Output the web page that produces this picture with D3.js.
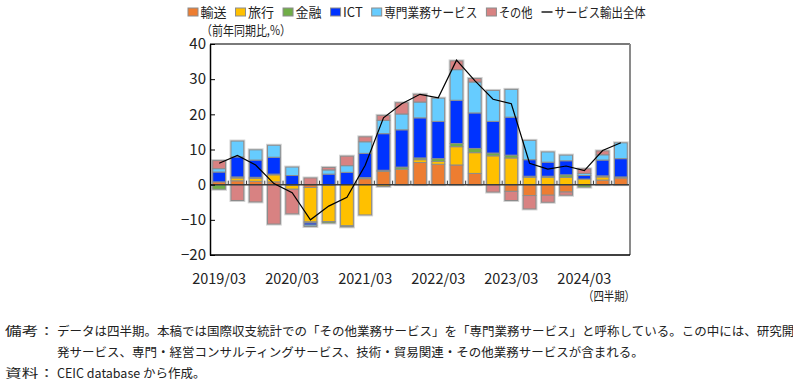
<!DOCTYPE html>
<html>
<meta charset="utf-8">
<title>サービス輸出の伸び率と寄与度</title>
<style>
  body { margin: 0; background: #fff; }
  svg { display: block; font-family: "Noto Sans CJK JP", "Noto Sans", sans-serif; fill: #222; }
  .seg { stroke: #8c8c8c; stroke-width: 1; }
  .halo { fill: none; stroke: #d2d2d2; stroke-width: 3; }
  .total { fill: none; stroke: #000; stroke-width: 1.2; }
</style>
<body>
<div id="chart"></div>
<script src="https://cdn.jsdelivr.net/npm/d3@7"></script>
<script>

const quarters = ['2019/03','2019/06','2019/09','2019/12','2020/03','2020/06','2020/09','2020/12',
  '2021/03','2021/06','2021/09','2021/12','2022/03','2022/06','2022/09','2022/12',
  '2023/03','2023/06','2023/09','2023/12','2024/03','2024/06','2024/09'];

// contributions (% pt)
const transport    = [0.8, 1.1, 0.95, 0.8, -0.2, -0.8, -0.2, 0, 1.7, 3.8, 4.4, 6.3, 5.8, 5.6, 3.2, 0, -1.9, -3.1, -3.0, -2.1, 0, 1.3, 1.9];
const travel       = [0, 0.8, 0.85, 2.0, -1.1, -9.8, -10.3, -11.7, -8.6, -0.5, 0, 0.8, 0.8, 5.2, 5.9, 8.2, 7.6, 2.1, 2.1, 2.1, 1.6, 0.9, 0];
const finance      = [-1.3, 0.3, 0.3, 0.2, 0, -0.3, -0.4, -0.3, 0.3, 0.3, 0.6, 0.5, 0.8, 0.9, 1.2, 0.8, 0.8, 0.3, 0.3, 0.7, -0.7, 0.3, 0.3];
const ict          = [2.8, 5.7, 4.9, 4.8, 2.6, -0.6, 3.0, 3.5, 6.9, 10.4, 10.6, 11.4, 10.6, 12.3, 10.1, 9.0, 10.8, 4.7, 4.0, 4.0, 1.0, 4.5, 5.2];
const professional = [0.95, 4.5, 2.9, 3.4, 2.4, -0.4, 1.2, 1.9, 3.3, 3.8, 4.5, 4.5, 6.6, 8.7, 8.8, 8.8, 7.9, 5.5, 2.9, 1.6, 0.6, 1.5, 4.5];
const other        = [2.3, -4.5, -4.9, -11.2, -7.0, 1.9, 0.7, 2.7, 1.4, 1.4, 3.2, 2.2, 0, 2.5, 1.0, -2.1, -2.6, -3.8, -2.0, -0.9, 1.3, 1.1, 0];
// サービス輸出全体 (y/y %)
const total        = [6.1, 8.3, 5.6, 0.3, -2.3, -10.0, -6.1, -3.6, 5.5, 19.0, 23.0, 25.7, 24.7, 35.4, 29.6, 24.3, 23.0, 6.1, 4.4, 5.3, 4.0, 9.7, 11.9];

const keys = ['輸送', '旅行', '金融', 'ICT', '専門業務サービス', 'その他'];
const colors = ['#ED7D31', '#FFC000', '#70AD47', '#0033FF', '#66CCFF', '#D88282'];
const yTicks = [-20, -10, 0, 10, 20, 30, 40];

const notes = [
  ['備考：', 'データは四半期。本稿では国際収支統計での「その他業務サービス」を「専門業務サービス」と呼称している。この中には、研究開'],
  ['', '発サービス、専門・経営コンサルティングサービス、技術・貿易関連・その他業務サービスが含まれる。'],
  ['資料：', 'CEIC database から作成。']
];

const W = 793, H = 383;
const plot = {left: 210, right: 630, top: 44, bottom: 255};

const series = [transport, travel, finance, ict, professional, other];
const rows = quarters.map((q, i) => {
  const r = {q: q};
  keys.forEach((k, j) => r[k] = series[j][i]);
  return r;
});

const svg = d3.select('#chart').append('svg')
  .attr('width', W)
  .attr('height', H);

svg.append('rect').attr('width', W).attr('height', H).attr('fill', '#fff');

const x = d3.scaleBand()
  .domain(quarters)
  .range([plot.left, plot.right])
  .paddingInner(0.3)
  .paddingOuter(0.15);

const y = d3.scaleLinear()
  .domain([-20, 40])
  .range([plot.bottom, plot.top]);

const color = d3.scaleOrdinal().domain(keys).range(colors);

const stacked = d3.stack()
  .keys(keys)
  .offset(d3.stackOffsetDiverging)(rows);

// light halo around each whole bar
const ext = rows.map((r, i) => {
  let lo = 0, hi = 0;
  stacked.forEach(s => { lo = Math.min(lo, s[i][0], s[i][1]); hi = Math.max(hi, s[i][0], s[i][1]); });
  return {q: r.q, lo: lo, hi: hi};
});

svg.append('g').selectAll('rect')
  .data(ext)
  .join('rect')
  .attr('class', 'halo')
  .attr('x', d => x(d.q))
  .attr('width', x.bandwidth())
  .attr('y', d => y(d.hi))
  .attr('height', d => y(d.lo) - y(d.hi));

svg.append('g').selectAll('g')
  .data(stacked)
  .join('g')
  .attr('fill', d => color(d.key))
  .selectAll('rect')
  .data(d => d.filter(v => v[1] !== v[0]))
  .join('rect')
  .attr('class', 'seg')
  .attr('x', d => x(d.data.q))
  .attr('width', x.bandwidth())
  .attr('y', d => y(Math.max(d[0], d[1])))
  .attr('height', d => Math.abs(y(d[0]) - y(d[1])));

// zero line with little ticks between quarters
const y0 = y(0);
svg.append('line')
  .attr('x1', plot.left).attr('x2', plot.right)
  .attr('y1', y0).attr('y2', y0)
  .attr('stroke', '#3c3c3c').attr('stroke-width', 1.5);

const gap = x.step() * x.paddingInner() / 2;
svg.append('g').selectAll('line')
  .data(quarters.slice(1))
  .join('line')
  .attr('x1', d => x(d) - gap).attr('x2', d => x(d) - gap)
  .attr('y1', y0).attr('y2', y0 - 4)
  .attr('stroke', '#3c3c3c');

// total line
const line = d3.line()
  .x((d, i) => x(quarters[i]) + x.bandwidth() / 2)
  .y(d => y(d));

svg.append('path')
  .datum(total)
  .attr('class', 'total')
  .attr('d', line);

// frame
svg.append('line')
  .attr('x1', plot.left).attr('x2', plot.right)
  .attr('y1', plot.top).attr('y2', plot.top)
  .attr('stroke', '#7a7a7a').attr('stroke-width', 2);
svg.append('line')
  .attr('x1', plot.right).attr('x2', plot.right)
  .attr('y1', plot.top).attr('y2', plot.bottom)
  .attr('stroke', '#8a8a8a').attr('stroke-width', 2);
svg.append('line')
  .attr('x1', plot.left).attr('x2', plot.right)
  .attr('y1', plot.bottom).attr('y2', plot.bottom)
  .attr('stroke', '#000').attr('stroke-width', 1.5);

// y axis
const yAxis = svg.append('g')
  .attr('transform', `translate(${plot.left},0)`)
  .call(d3.axisLeft(y).tickValues(yTicks).tickSizeInner(-5).tickSizeOuter(0).tickPadding(4));
yAxis.select('.domain').attr('stroke', '#000').attr('stroke-width', 1.5);
yAxis.selectAll('.tick line').attr('stroke', '#000');
yAxis.selectAll('.tick text')
  .attr('font-size', 15)
  .attr('font-family', '"Noto Sans CJK JP", sans-serif')
  .attr('fill', '#222');

// x labels (Q1 only)
svg.append('g').selectAll('text')
  .data(quarters.filter(q => q.endsWith('/03')))
  .join('text')
  .attr('x', d => x(d) + x.bandwidth() / 2)
  .attr('y', 284)
  .attr('text-anchor', 'middle')
  .attr('font-size', 14.5)
  .text(d => d);

svg.append('text')
  .attr('x', 635).attr('y', 301)
  .attr('text-anchor', 'end')
  .attr('font-size', 12.5)
  .attr('textLength', 52)
  .attr('lengthAdjust', 'spacingAndGlyphs')
  .text('（四半期）');

svg.append('text')
  .attr('x', 201).attr('y', 35)
  .attr('font-size', 13)
  .attr('textLength', 90)
  .attr('lengthAdjust', 'spacingAndGlyphs')
  .text('（前年同期比,%）');

// legend
const kana = s => (s.match(/[\u3040-\u30ff]/g) || []).length;
const legend = svg.append('g').attr('font-size', 13);
let lx = 188;
keys.forEach(k => {
  legend.append('rect')
    .attr('x', lx).attr('y', 8).attr('width', 10).attr('height', 8)
    .attr('fill', color(k)).attr('stroke', '#8c8c8c');
  const t = legend.append('text').attr('x', lx + 12.5).attr('y', 17).text(k);
  const w = t.node().getComputedTextLength() - kana(k) * 2.7;
  t.attr('textLength', w).attr('lengthAdjust', 'spacingAndGlyphs');
  lx += 12.5 + w + 9;
});
legend.append('line')
  .attr('x1', lx).attr('x2', lx + 11)
  .attr('y1', 12).attr('y2', 12)
  .attr('stroke', '#555').attr('stroke-width', 2);
{
  const lab = 'サービス輸出全体';
  const t = legend.append('text').attr('x', lx + 13).attr('y', 17).text(lab);
  const w = t.node().getComputedTextLength() - kana(lab) * 3.2;
  t.attr('textLength', w).attr('lengthAdjust', 'spacingAndGlyphs');
}

// notes
const noteG = svg.append('g').attr('font-size', 12.5);
notes.forEach((n, i) => {
  const yy = 336 + i * 21;
  if (n[0]) {
    noteG.append('text').attr('x', 5).attr('y', yy)
      .attr('textLength', 50).attr('lengthAdjust', 'spacingAndGlyphs')
      .text(n[0]);
  }
  noteG.append('text').attr('x', 57).attr('y', yy).text(n[1]);
});

</script>
</body>
</html>
